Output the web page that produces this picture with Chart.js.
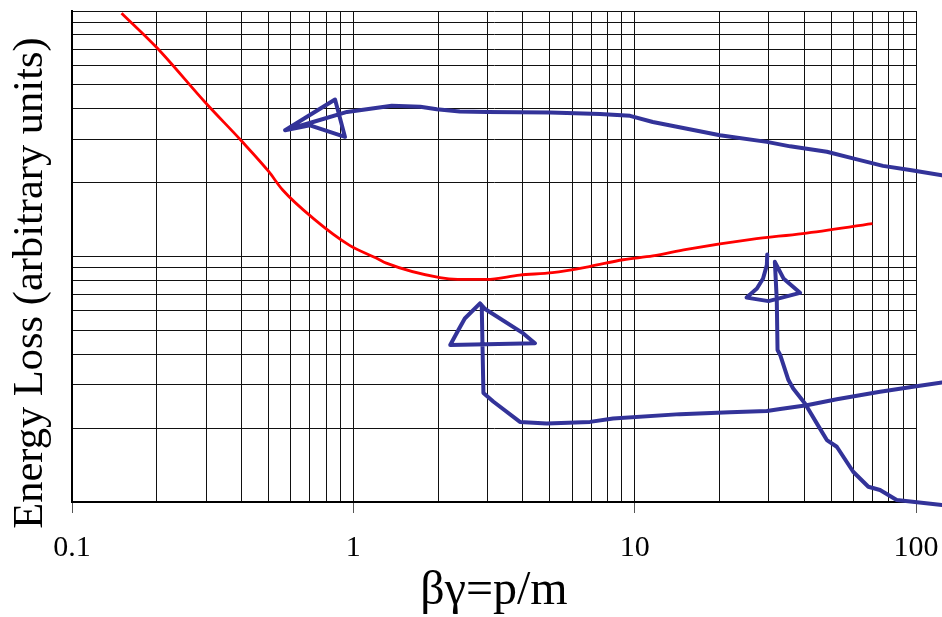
<!DOCTYPE html>
<html>
<head>
<meta charset="utf-8">
<script src="https://cdn.jsdelivr.net/npm/chart.js@4/dist/chart.umd.min.js"></script>
<style>
  html, body { margin: 0; padding: 0; background: #fff; }
  canvas { display: block; }
</style>
</head>
<body>
<canvas id="chart" width="942" height="617"></canvas>
<script>
// mean energy loss vs beta*gamma
const betaGamma = [0.15, 0.2, 0.3, 0.4, 0.5, 0.56, 0.72, 0.97, 1.22, 1.31, 2.03, 2.35, 2.97, 3.9, 5.1, 6.9, 9.1, 11.6, 15.3, 26, 39.5, 70];
const energyLoss = [98, 71, 42, 29.6, 22.2, 18.7, 14.3, 11.1, 9.8, 9.4, 8.2, 8.07, 8.07, 8.4, 8.6, 9.1, 9.7, 10.05, 10.7, 11.75, 12.4, 13.6];

// hand drawn arrows, each one pen stroke
const arrowTopX = [123.7, 95.2, 76.3, 59.7, 48.2, 35.7, 29.5, 20.1, 11.6, 9.63, 7.53, 5.0, 2.99, 2.39, 1.98, 1.73, 1.37, 0.95, 0.719, 0.572, 0.861, 0.934, 0.701, 0.572];
const arrowTopY = [21.4, 22.5, 23.4, 25.1, 26.7, 28.1, 29.3, 31.2, 35.3, 37.4, 38.1, 38.6, 38.8, 39.0, 39.8, 40.7, 41.1, 38.8, 35.3, 32.7, 43.6, 30.7, 34.2, 32.7];

const arrowMidX = [123.7, 97.6, 74.5, 52.3, 40.9, 32.9, 29.5, 21.8, 14.5, 8.38, 6.94, 4.87, 3.91, 3.15, 2.90, 2.86, 2.82, 2.94, 4.02, 4.42, 2.21, 2.36, 2.49, 2.82];
const arrowMidY = [3.07, 2.95, 2.81, 2.62, 2.48, 2.39, 2.35, 2.32, 2.28, 2.19, 2.12, 2.09, 2.12, 2.56, 2.78, 6.34, 6.44, 6.11, 4.86, 4.43, 4.36, 5.01, 5.59, 6.44];

const arrowRightX = [123.7, 85.4, 74.5, 67.7, 59.8, 52.3, 48.2, 44.4, 40.3, 36.6, 35.2, 32.9, 32.2, 32.0, 31.5, 33.8, 38.7, 29.9, 25.0, 27.2, 28.6, 29.5, 29.6];
const arrowRightY = [0.972, 1.019, 1.119, 1.154, 1.328, 1.679, 1.788, 2.09, 2.52, 2.90, 3.14, 3.97, 4.16, 6.64, 9.51, 8.14, 7.11, 6.58, 6.80, 7.41, 8.14, 9.22, 10.2];

const xDecades = [0.1, 1, 10, 100];
const yDecades = [1, 10, 100];

function logGrid(decades) {
  const vals = [];
  for (let i = 0; i < decades.length - 1; i++) {
    for (let m = 1; m < 10; m++) vals.push(+(m * decades[i]).toPrecision(3));
  }
  vals.push(decades[decades.length - 1]);
  return vals;
}
const xGrid = logGrid(xDecades);
const yGrid = logGrid(yDecades);

const pts = (xs, ys) => xs.map((x, i) => ({ x, y: ys[i] }));

const serif = 'Liberation Serif, "Times New Roman", serif';
const blue = '#333399';

function stroke(xs, ys) {
  return {
    data: pts(xs, ys),
    showLine: true,
    borderColor: blue,
    borderWidth: 4,
    borderJoinStyle: 'round',
    borderCapStyle: 'round',
    pointRadius: 0,
    tension: 0,
    clip: false
  };
}

new Chart(document.getElementById('chart'), {
  type: 'scatter',
  data: {
    datasets: [
      {
        data: pts(betaGamma, energyLoss),
        showLine: true,
        borderColor: '#ff0000',
        borderWidth: 2.8,
        pointRadius: 0,
        cubicInterpolationMode: 'monotone'
      },
      stroke(arrowTopX, arrowTopY),
      stroke(arrowMidX, arrowMidY),
      stroke(arrowRightX, arrowRightY)
    ]
  },
  options: {
    responsive: false,
    animation: false,
    layout: { padding: { top: 11, left: 0, right: 0, bottom: 0 } },
    plugins: {
      legend: { display: false },
      tooltip: { enabled: false }
    },
    scales: {
      x: {
        type: 'logarithmic',
        min: 0.1,
        max: 100,
        afterBuildTicks: s => { s.ticks = xGrid.map(v => ({ value: v })); },
        afterFit: s => { s.height = 115; s.paddingRight = 26; },
        ticks: {
          autoSkip: false,
          maxRotation: 0,
          minRotation: 0,
          padding: 17,
          color: '#000',
          font: { family: serif, size: 30 },
          callback: v => xDecades.includes(v) ? String(v) : ''
        },
        grid: {
          color: '#111',
          lineWidth: 1,
          tickLength: 11,
          tickColor: ctx => (ctx.tick && xDecades.includes(ctx.tick.value)) ? '#555' : 'rgba(0,0,0,0)'
        },
        border: { display: true, color: '#000', width: 2 },
        title: {
          display: true,
          text: 'βγ=p/m',
          color: '#000',
          font: { family: serif, size: 48, lineHeight: 1 },
          padding: { top: 0, bottom: 2 }
        }
      },
      y: {
        type: 'logarithmic',
        min: 1,
        max: 100,
        afterBuildTicks: s => { s.ticks = yGrid.map(v => ({ value: v })); },
        afterFit: s => { s.width = 72; },
        ticks: { display: false },
        grid: { color: '#111', lineWidth: 1, drawTicks: false },
        border: { display: true, color: '#000', width: 2 },
        title: {
          display: true,
          text: 'Energy Loss (arbitrary units)     ',
          color: '#000',
          font: { family: serif, size: 42.5, lineHeight: 1 },
          padding: { top: 10, bottom: 0 }
        }
      }
    }
  }
});
</script>
</body>
</html>
